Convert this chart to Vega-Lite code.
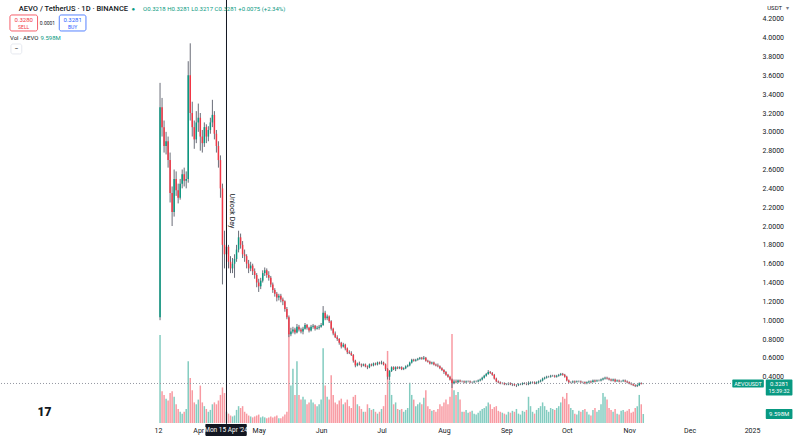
{
"$schema":"https://vega.github.io/schema/vega-lite/v6.json",
"width":755,"height":423,
"autosize":{"type":"none"},
"padding":{"left":0,"top":0,"right":45,"bottom":13},
"background":"#ffffff",
"config":{"view":{"stroke":null},"font":"Roboto"},
"datasets":{"ohlc":[
{"d":"2024-03-13","o":1.03,"h":3.52,"l":1.00,"c":3.26,"v":94},
{"d":"2024-03-14","o":3.26,"h":3.36,"l":2.95,"c":3.05,"v":34},
{"d":"2024-03-15","o":3.05,"h":3.12,"l":2.78,"c":2.85,"v":30},
{"d":"2024-03-16","o":2.85,"h":3.00,"l":2.76,"c":2.90,"v":26},
{"d":"2024-03-17","o":2.90,"h":2.95,"l":2.62,"c":2.70,"v":24},
{"d":"2024-03-18","o":2.70,"h":2.78,"l":2.25,"c":2.35,"v":32},
{"d":"2024-03-19","o":2.35,"h":2.42,"l":2.00,"c":2.15,"v":34},
{"d":"2024-03-20","o":2.15,"h":2.60,"l":2.10,"c":2.50,"v":28},
{"d":"2024-03-21","o":2.50,"h":2.58,"l":2.32,"c":2.38,"v":20},
{"d":"2024-03-22","o":2.38,"h":2.45,"l":2.24,"c":2.30,"v":15},
{"d":"2024-03-23","o":2.30,"h":2.50,"l":2.28,"c":2.45,"v":12},
{"d":"2024-03-24","o":2.45,"h":2.60,"l":2.40,"c":2.55,"v":10},
{"d":"2024-03-25","o":2.55,"h":2.62,"l":2.42,"c":2.48,"v":12},
{"d":"2024-03-26","o":2.48,"h":2.58,"l":2.40,"c":2.50,"v":15},
{"d":"2024-03-27","o":2.50,"h":3.75,"l":2.46,"c":3.60,"v":66},
{"d":"2024-03-28","o":3.60,"h":3.94,"l":3.12,"c":3.20,"v":48},
{"d":"2024-03-29","o":3.20,"h":3.32,"l":2.95,"c":3.05,"v":35},
{"d":"2024-03-30","o":3.05,"h":3.12,"l":2.82,"c":2.92,"v":22},
{"d":"2024-03-31","o":2.92,"h":3.22,"l":2.88,"c":3.10,"v":20},
{"d":"2024-04-01","o":3.10,"h":3.30,"l":3.00,"c":3.15,"v":25},
{"d":"2024-04-02","o":3.15,"h":3.20,"l":2.80,"c":2.95,"v":40},
{"d":"2024-04-03","o":2.95,"h":3.02,"l":2.78,"c":2.88,"v":22},
{"d":"2024-04-04","o":2.88,"h":3.10,"l":2.84,"c":3.05,"v":18},
{"d":"2024-04-05","o":3.05,"h":3.08,"l":2.88,"c":2.95,"v":15},
{"d":"2024-04-06","o":2.95,"h":3.06,"l":2.90,"c":3.02,"v":12},
{"d":"2024-04-07","o":3.02,"h":3.15,"l":2.98,"c":3.10,"v":14},
{"d":"2024-04-08","o":3.10,"h":3.34,"l":3.05,"c":3.18,"v":20},
{"d":"2024-04-09","o":3.18,"h":3.22,"l":2.92,"c":2.98,"v":22},
{"d":"2024-04-10","o":2.98,"h":3.02,"l":2.78,"c":2.85,"v":20},
{"d":"2024-04-11","o":2.85,"h":2.90,"l":2.62,"c":2.70,"v":24},
{"d":"2024-04-12","o":2.70,"h":2.75,"l":2.30,"c":2.40,"v":30},
{"d":"2024-04-13","o":2.40,"h":2.45,"l":1.38,"c":1.80,"v":38},
{"d":"2024-04-14","o":1.80,"h":1.95,"l":1.55,"c":1.70,"v":32},
{"d":"2024-04-15","o":1.70,"h":1.85,"l":1.62,"c":1.78,"v":12},
{"d":"2024-04-16","o":1.78,"h":1.80,"l":1.55,"c":1.62,"v":10},
{"d":"2024-04-17","o":1.62,"h":1.68,"l":1.50,"c":1.55,"v":8},
{"d":"2024-04-18","o":1.55,"h":1.66,"l":1.50,"c":1.60,"v":7},
{"d":"2024-04-19","o":1.60,"h":1.70,"l":1.45,"c":1.65,"v":8},
{"d":"2024-04-20","o":1.65,"h":1.80,"l":1.62,"c":1.75,"v":14},
{"d":"2024-04-21","o":1.75,"h":1.95,"l":1.72,"c":1.88,"v":18},
{"d":"2024-04-22","o":1.88,"h":1.92,"l":1.76,"c":1.80,"v":16},
{"d":"2024-04-23","o":1.80,"h":1.84,"l":1.66,"c":1.70,"v":18},
{"d":"2024-04-24","o":1.70,"h":1.75,"l":1.62,"c":1.68,"v":12},
{"d":"2024-04-25","o":1.68,"h":1.70,"l":1.55,"c":1.60,"v":10},
{"d":"2024-04-26","o":1.60,"h":1.64,"l":1.50,"c":1.55,"v":8},
{"d":"2024-04-27","o":1.55,"h":1.62,"l":1.52,"c":1.58,"v":7},
{"d":"2024-04-28","o":1.58,"h":1.60,"l":1.48,"c":1.52,"v":6},
{"d":"2024-04-29","o":1.52,"h":1.55,"l":1.44,"c":1.48,"v":7},
{"d":"2024-04-30","o":1.48,"h":1.50,"l":1.35,"c":1.40,"v":8},
{"d":"2024-05-01","o":1.40,"h":1.44,"l":1.30,"c":1.36,"v":9},
{"d":"2024-05-02","o":1.36,"h":1.45,"l":1.33,"c":1.42,"v":6},
{"d":"2024-05-03","o":1.42,"h":1.53,"l":1.40,"c":1.50,"v":7},
{"d":"2024-05-04","o":1.50,"h":1.56,"l":1.47,"c":1.53,"v":6},
{"d":"2024-05-05","o":1.53,"h":1.55,"l":1.45,"c":1.48,"v":5},
{"d":"2024-05-06","o":1.48,"h":1.52,"l":1.42,"c":1.45,"v":6},
{"d":"2024-05-07","o":1.45,"h":1.47,"l":1.35,"c":1.38,"v":7},
{"d":"2024-05-08","o":1.38,"h":1.40,"l":1.29,"c":1.32,"v":6},
{"d":"2024-05-09","o":1.32,"h":1.34,"l":1.25,"c":1.28,"v":7},
{"d":"2024-05-10","o":1.28,"h":1.30,"l":1.20,"c":1.24,"v":8},
{"d":"2024-05-11","o":1.24,"h":1.28,"l":1.21,"c":1.26,"v":5},
{"d":"2024-05-12","o":1.26,"h":1.28,"l":1.19,"c":1.22,"v":5},
{"d":"2024-05-13","o":1.22,"h":1.24,"l":1.16,"c":1.20,"v":7},
{"d":"2024-05-14","o":1.20,"h":1.21,"l":1.09,"c":1.12,"v":9},
{"d":"2024-05-15","o":1.12,"h":1.14,"l":1.01,"c":1.03,"v":12},
{"d":"2024-05-16","o":1.03,"h":1.05,"l":0.82,"c":0.85,"v":96},
{"d":"2024-05-17","o":0.85,"h":0.92,"l":0.83,"c":0.88,"v":40},
{"d":"2024-05-18","o":0.88,"h":0.93,"l":0.86,"c":0.90,"v":58},
{"d":"2024-05-19","o":0.90,"h":0.92,"l":0.85,"c":0.87,"v":30},
{"d":"2024-05-20","o":0.87,"h":0.96,"l":0.86,"c":0.93,"v":66},
{"d":"2024-05-21","o":0.93,"h":0.95,"l":0.88,"c":0.90,"v":30},
{"d":"2024-05-22","o":0.90,"h":0.92,"l":0.86,"c":0.88,"v":25},
{"d":"2024-05-23","o":0.88,"h":0.93,"l":0.85,"c":0.91,"v":28},
{"d":"2024-05-24","o":0.91,"h":0.97,"l":0.90,"c":0.95,"v":25},
{"d":"2024-05-25","o":0.95,"h":0.96,"l":0.90,"c":0.92,"v":20},
{"d":"2024-05-26","o":0.92,"h":0.93,"l":0.87,"c":0.89,"v":22},
{"d":"2024-05-27","o":0.89,"h":0.95,"l":0.88,"c":0.93,"v":25},
{"d":"2024-05-28","o":0.93,"h":0.96,"l":0.91,"c":0.94,"v":22},
{"d":"2024-05-29","o":0.94,"h":0.95,"l":0.89,"c":0.91,"v":20},
{"d":"2024-05-30","o":0.91,"h":0.94,"l":0.90,"c":0.92,"v":18},
{"d":"2024-05-31","o":0.92,"h":0.95,"l":0.90,"c":0.93,"v":20},
{"d":"2024-06-01","o":0.93,"h":0.97,"l":0.92,"c":0.95,"v":25},
{"d":"2024-06-02","o":0.95,"h":1.15,"l":0.94,"c":1.08,"v":80},
{"d":"2024-06-03","o":1.08,"h":1.10,"l":1.00,"c":1.02,"v":40},
{"d":"2024-06-04","o":1.02,"h":1.06,"l":1.00,"c":1.04,"v":28},
{"d":"2024-06-05","o":1.04,"h":1.05,"l":0.97,"c":0.99,"v":25},
{"d":"2024-06-06","o":0.99,"h":1.00,"l":0.89,"c":0.91,"v":51},
{"d":"2024-06-07","o":0.91,"h":0.92,"l":0.84,"c":0.86,"v":30},
{"d":"2024-06-08","o":0.86,"h":0.88,"l":0.81,"c":0.82,"v":22},
{"d":"2024-06-09","o":0.82,"h":0.84,"l":0.78,"c":0.80,"v":20},
{"d":"2024-06-10","o":0.80,"h":0.81,"l":0.74,"c":0.76,"v":24},
{"d":"2024-06-11","o":0.76,"h":0.77,"l":0.70,"c":0.72,"v":26},
{"d":"2024-06-12","o":0.72,"h":0.76,"l":0.71,"c":0.74,"v":20},
{"d":"2024-06-13","o":0.74,"h":0.75,"l":0.68,"c":0.70,"v":22},
{"d":"2024-06-14","o":0.70,"h":0.71,"l":0.64,"c":0.66,"v":25},
{"d":"2024-06-15","o":0.66,"h":0.68,"l":0.64,"c":0.65,"v":18},
{"d":"2024-06-16","o":0.65,"h":0.67,"l":0.62,"c":0.63,"v":16},
{"d":"2024-06-17","o":0.63,"h":0.64,"l":0.55,"c":0.57,"v":28},
{"d":"2024-06-18","o":0.57,"h":0.58,"l":0.50,"c":0.52,"v":30},
{"d":"2024-06-19","o":0.52,"h":0.55,"l":0.51,"c":0.54,"v":20},
{"d":"2024-06-20","o":0.54,"h":0.56,"l":0.52,"c":0.53,"v":18},
{"d":"2024-06-21","o":0.53,"h":0.54,"l":0.50,"c":0.52,"v":15},
{"d":"2024-06-22","o":0.52,"h":0.54,"l":0.51,"c":0.53,"v":12},
{"d":"2024-06-23","o":0.53,"h":0.54,"l":0.50,"c":0.51,"v":12},
{"d":"2024-06-24","o":0.51,"h":0.52,"l":0.48,"c":0.50,"v":20},
{"d":"2024-06-25","o":0.50,"h":0.54,"l":0.49,"c":0.53,"v":16},
{"d":"2024-06-26","o":0.53,"h":0.54,"l":0.51,"c":0.52,"v":14},
{"d":"2024-06-27","o":0.52,"h":0.55,"l":0.51,"c":0.54,"v":15},
{"d":"2024-06-28","o":0.54,"h":0.55,"l":0.52,"c":0.53,"v":12},
{"d":"2024-06-29","o":0.53,"h":0.56,"l":0.52,"c":0.55,"v":10},
{"d":"2024-06-30","o":0.55,"h":0.56,"l":0.53,"c":0.54,"v":12},
{"d":"2024-07-01","o":0.54,"h":0.57,"l":0.53,"c":0.55,"v":15},
{"d":"2024-07-02","o":0.55,"h":0.56,"l":0.52,"c":0.53,"v":18},
{"d":"2024-07-03","o":0.53,"h":0.54,"l":0.46,"c":0.48,"v":30},
{"d":"2024-07-04","o":0.48,"h":0.49,"l":0.37,"c":0.40,"v":77},
{"d":"2024-07-05","o":0.40,"h":0.47,"l":0.36,"c":0.46,"v":45},
{"d":"2024-07-06","o":0.46,"h":0.51,"l":0.45,"c":0.50,"v":30},
{"d":"2024-07-07","o":0.50,"h":0.51,"l":0.47,"c":0.48,"v":20},
{"d":"2024-07-08","o":0.48,"h":0.51,"l":0.46,"c":0.50,"v":22},
{"d":"2024-07-09","o":0.50,"h":0.51,"l":0.48,"c":0.49,"v":15},
{"d":"2024-07-10","o":0.49,"h":0.51,"l":0.48,"c":0.50,"v":14},
{"d":"2024-07-11","o":0.50,"h":0.51,"l":0.47,"c":0.48,"v":15},
{"d":"2024-07-12","o":0.48,"h":0.50,"l":0.47,"c":0.49,"v":12},
{"d":"2024-07-13","o":0.49,"h":0.52,"l":0.48,"c":0.51,"v":14},
{"d":"2024-07-14","o":0.51,"h":0.53,"l":0.50,"c":0.52,"v":16},
{"d":"2024-07-15","o":0.52,"h":0.56,"l":0.51,"c":0.55,"v":43},
{"d":"2024-07-16","o":0.55,"h":0.59,"l":0.54,"c":0.58,"v":30},
{"d":"2024-07-17","o":0.58,"h":0.59,"l":0.56,"c":0.57,"v":25},
{"d":"2024-07-18","o":0.57,"h":0.59,"l":0.56,"c":0.58,"v":18},
{"d":"2024-07-19","o":0.58,"h":0.60,"l":0.57,"c":0.59,"v":20},
{"d":"2024-07-20","o":0.59,"h":0.61,"l":0.58,"c":0.60,"v":22},
{"d":"2024-07-21","o":0.60,"h":0.61,"l":0.58,"c":0.59,"v":20},
{"d":"2024-07-22","o":0.59,"h":0.62,"l":0.58,"c":0.60,"v":27},
{"d":"2024-07-23","o":0.60,"h":0.61,"l":0.56,"c":0.57,"v":35},
{"d":"2024-07-24","o":0.57,"h":0.58,"l":0.55,"c":0.56,"v":18},
{"d":"2024-07-25","o":0.56,"h":0.57,"l":0.53,"c":0.54,"v":15},
{"d":"2024-07-26","o":0.54,"h":0.56,"l":0.53,"c":0.55,"v":13},
{"d":"2024-07-27","o":0.55,"h":0.56,"l":0.52,"c":0.53,"v":14},
{"d":"2024-07-28","o":0.53,"h":0.54,"l":0.51,"c":0.52,"v":12},
{"d":"2024-07-29","o":0.52,"h":0.54,"l":0.50,"c":0.51,"v":15},
{"d":"2024-07-30","o":0.51,"h":0.52,"l":0.48,"c":0.49,"v":20},
{"d":"2024-07-31","o":0.49,"h":0.50,"l":0.46,"c":0.47,"v":18},
{"d":"2024-08-01","o":0.47,"h":0.48,"l":0.43,"c":0.45,"v":22},
{"d":"2024-08-02","o":0.45,"h":0.46,"l":0.41,"c":0.42,"v":25},
{"d":"2024-08-03","o":0.42,"h":0.43,"l":0.39,"c":0.40,"v":20},
{"d":"2024-08-04","o":0.40,"h":0.41,"l":0.36,"c":0.37,"v":28},
{"d":"2024-08-05","o":0.37,"h":0.38,"l":0.28,"c":0.33,"v":95},
{"d":"2024-08-06","o":0.33,"h":0.37,"l":0.32,"c":0.35,"v":35},
{"d":"2024-08-07","o":0.35,"h":0.37,"l":0.33,"c":0.34,"v":30},
{"d":"2024-08-08","o":0.34,"h":0.37,"l":0.33,"c":0.36,"v":33},
{"d":"2024-08-09","o":0.36,"h":0.37,"l":0.34,"c":0.35,"v":25},
{"d":"2024-08-10","o":0.35,"h":0.36,"l":0.34,"c":0.35,"v":12},
{"d":"2024-08-11","o":0.35,"h":0.36,"l":0.33,"c":0.34,"v":12},
{"d":"2024-08-12","o":0.34,"h":0.36,"l":0.33,"c":0.35,"v":14},
{"d":"2024-08-13","o":0.35,"h":0.36,"l":0.34,"c":0.35,"v":11},
{"d":"2024-08-14","o":0.35,"h":0.36,"l":0.33,"c":0.34,"v":12},
{"d":"2024-08-15","o":0.34,"h":0.35,"l":0.33,"c":0.34,"v":13},
{"d":"2024-08-16","o":0.34,"h":0.36,"l":0.33,"c":0.35,"v":10},
{"d":"2024-08-17","o":0.35,"h":0.36,"l":0.34,"c":0.35,"v":9},
{"d":"2024-08-18","o":0.35,"h":0.37,"l":0.34,"c":0.36,"v":11},
{"d":"2024-08-19","o":0.36,"h":0.38,"l":0.35,"c":0.37,"v":13},
{"d":"2024-08-20","o":0.37,"h":0.40,"l":0.36,"c":0.39,"v":15},
{"d":"2024-08-21","o":0.39,"h":0.42,"l":0.38,"c":0.41,"v":16},
{"d":"2024-08-22","o":0.41,"h":0.44,"l":0.40,"c":0.43,"v":18},
{"d":"2024-08-23","o":0.43,"h":0.47,"l":0.42,"c":0.45,"v":22},
{"d":"2024-08-24","o":0.45,"h":0.46,"l":0.43,"c":0.44,"v":20},
{"d":"2024-08-25","o":0.44,"h":0.45,"l":0.41,"c":0.42,"v":15},
{"d":"2024-08-26","o":0.42,"h":0.43,"l":0.37,"c":0.38,"v":17},
{"d":"2024-08-27","o":0.38,"h":0.39,"l":0.34,"c":0.35,"v":18},
{"d":"2024-08-28","o":0.35,"h":0.36,"l":0.33,"c":0.34,"v":13},
{"d":"2024-08-29","o":0.34,"h":0.35,"l":0.32,"c":0.33,"v":12},
{"d":"2024-08-30","o":0.33,"h":0.34,"l":0.32,"c":0.33,"v":11},
{"d":"2024-08-31","o":0.33,"h":0.34,"l":0.31,"c":0.32,"v":10},
{"d":"2024-09-01","o":0.32,"h":0.33,"l":0.31,"c":0.32,"v":9},
{"d":"2024-09-02","o":0.32,"h":0.34,"l":0.31,"c":0.33,"v":12},
{"d":"2024-09-03","o":0.33,"h":0.34,"l":0.31,"c":0.32,"v":11},
{"d":"2024-09-04","o":0.32,"h":0.33,"l":0.30,"c":0.32,"v":13},
{"d":"2024-09-05","o":0.32,"h":0.33,"l":0.30,"c":0.31,"v":12},
{"d":"2024-09-06","o":0.31,"h":0.32,"l":0.29,"c":0.31,"v":15},
{"d":"2024-09-07","o":0.31,"h":0.33,"l":0.30,"c":0.32,"v":10},
{"d":"2024-09-08","o":0.32,"h":0.33,"l":0.31,"c":0.32,"v":9},
{"d":"2024-09-09","o":0.32,"h":0.34,"l":0.31,"c":0.33,"v":13},
{"d":"2024-09-10","o":0.33,"h":0.34,"l":0.32,"c":0.33,"v":12},
{"d":"2024-09-11","o":0.33,"h":0.34,"l":0.31,"c":0.32,"v":14},
{"d":"2024-09-12","o":0.32,"h":0.35,"l":0.31,"c":0.33,"v":28},
{"d":"2024-09-13","o":0.33,"h":0.35,"l":0.32,"c":0.34,"v":18},
{"d":"2024-09-14","o":0.34,"h":0.35,"l":0.33,"c":0.34,"v":12},
{"d":"2024-09-15","o":0.34,"h":0.35,"l":0.32,"c":0.33,"v":10},
{"d":"2024-09-16","o":0.33,"h":0.35,"l":0.32,"c":0.34,"v":14},
{"d":"2024-09-17","o":0.34,"h":0.36,"l":0.33,"c":0.35,"v":16},
{"d":"2024-09-18","o":0.35,"h":0.37,"l":0.34,"c":0.36,"v":18},
{"d":"2024-09-19","o":0.36,"h":0.39,"l":0.35,"c":0.38,"v":22},
{"d":"2024-09-20","o":0.38,"h":0.40,"l":0.37,"c":0.39,"v":18},
{"d":"2024-09-21","o":0.39,"h":0.41,"l":0.38,"c":0.40,"v":14},
{"d":"2024-09-22","o":0.40,"h":0.41,"l":0.39,"c":0.40,"v":12},
{"d":"2024-09-23","o":0.40,"h":0.42,"l":0.39,"c":0.41,"v":16},
{"d":"2024-09-24","o":0.41,"h":0.42,"l":0.40,"c":0.41,"v":15},
{"d":"2024-09-25","o":0.41,"h":0.42,"l":0.39,"c":0.40,"v":14},
{"d":"2024-09-26","o":0.40,"h":0.42,"l":0.39,"c":0.41,"v":16},
{"d":"2024-09-27","o":0.41,"h":0.43,"l":0.40,"c":0.42,"v":18},
{"d":"2024-09-28","o":0.42,"h":0.44,"l":0.41,"c":0.43,"v":22},
{"d":"2024-09-29","o":0.43,"h":0.44,"l":0.41,"c":0.42,"v":28},
{"d":"2024-09-30","o":0.42,"h":0.43,"l":0.39,"c":0.40,"v":26},
{"d":"2024-10-01","o":0.40,"h":0.41,"l":0.35,"c":0.36,"v":32},
{"d":"2024-10-02","o":0.36,"h":0.37,"l":0.33,"c":0.34,"v":20},
{"d":"2024-10-03","o":0.34,"h":0.35,"l":0.33,"c":0.34,"v":16},
{"d":"2024-10-04","o":0.34,"h":0.36,"l":0.33,"c":0.35,"v":14},
{"d":"2024-10-05","o":0.35,"h":0.36,"l":0.33,"c":0.34,"v":10},
{"d":"2024-10-06","o":0.34,"h":0.36,"l":0.34,"c":0.35,"v":9},
{"d":"2024-10-07","o":0.35,"h":0.36,"l":0.34,"c":0.35,"v":13},
{"d":"2024-10-08","o":0.35,"h":0.36,"l":0.33,"c":0.34,"v":12},
{"d":"2024-10-09","o":0.34,"h":0.35,"l":0.33,"c":0.34,"v":14},
{"d":"2024-10-10","o":0.34,"h":0.35,"l":0.32,"c":0.33,"v":15},
{"d":"2024-10-11","o":0.33,"h":0.35,"l":0.32,"c":0.34,"v":12},
{"d":"2024-10-12","o":0.34,"h":0.36,"l":0.33,"c":0.35,"v":9},
{"d":"2024-10-13","o":0.35,"h":0.36,"l":0.33,"c":0.34,"v":8},
{"d":"2024-10-14","o":0.34,"h":0.37,"l":0.34,"c":0.36,"v":14},
{"d":"2024-10-15","o":0.36,"h":0.37,"l":0.34,"c":0.35,"v":16},
{"d":"2024-10-16","o":0.35,"h":0.37,"l":0.35,"c":0.36,"v":12},
{"d":"2024-10-17","o":0.36,"h":0.37,"l":0.35,"c":0.36,"v":14},
{"d":"2024-10-18","o":0.36,"h":0.38,"l":0.35,"c":0.37,"v":20},
{"d":"2024-10-19","o":0.37,"h":0.39,"l":0.36,"c":0.38,"v":32},
{"d":"2024-10-20","o":0.38,"h":0.40,"l":0.37,"c":0.39,"v":28},
{"d":"2024-10-21","o":0.39,"h":0.40,"l":0.37,"c":0.38,"v":25},
{"d":"2024-10-22","o":0.38,"h":0.39,"l":0.36,"c":0.37,"v":16},
{"d":"2024-10-23","o":0.37,"h":0.38,"l":0.35,"c":0.36,"v":14},
{"d":"2024-10-24","o":0.36,"h":0.38,"l":0.35,"c":0.37,"v":12},
{"d":"2024-10-25","o":0.37,"h":0.38,"l":0.34,"c":0.35,"v":15},
{"d":"2024-10-26","o":0.35,"h":0.37,"l":0.35,"c":0.36,"v":10},
{"d":"2024-10-27","o":0.36,"h":0.37,"l":0.34,"c":0.35,"v":9},
{"d":"2024-10-28","o":0.35,"h":0.36,"l":0.34,"c":0.35,"v":13},
{"d":"2024-10-29","o":0.35,"h":0.37,"l":0.35,"c":0.36,"v":14},
{"d":"2024-10-30","o":0.36,"h":0.37,"l":0.34,"c":0.35,"v":12},
{"d":"2024-10-31","o":0.35,"h":0.36,"l":0.33,"c":0.34,"v":13},
{"d":"2024-11-01","o":0.34,"h":0.35,"l":0.32,"c":0.33,"v":15},
{"d":"2024-11-02","o":0.33,"h":0.34,"l":0.31,"c":0.32,"v":11},
{"d":"2024-11-03","o":0.32,"h":0.33,"l":0.30,"c":0.31,"v":12},
{"d":"2024-11-04","o":0.31,"h":0.32,"l":0.29,"c":0.30,"v":16},
{"d":"2024-11-05","o":0.30,"h":0.32,"l":0.29,"c":0.31,"v":18},
{"d":"2024-11-06","o":0.31,"h":0.34,"l":0.30,"c":0.33,"v":30},
{"d":"2024-11-07","o":0.33,"h":0.34,"l":0.32,"c":0.3206,"v":20},
{"d":"2024-11-08","o":0.3218,"h":0.3281,"l":0.3217,"c":0.3281,"v":9.6}
]},
"layer":[
{"data":{"name":"ohlc"},
 "mark":{"type":"bar","size":1.5},
 "encoding":{
  "x":{"field":"d","type":"temporal",
   "scale":{"type":"utc","domain":[{"year":2023,"month":12,"date":27,"utc":true},{"year":2024,"month":12,"date":31,"utc":true}]},
   "axis":{"values":[{"year":2024,"month":3,"date":12,"utc":true},{"year":2024,"month":4,"date":1,"utc":true},{"year":2024,"month":5,"date":1,"utc":true},{"year":2024,"month":6,"date":1,"utc":true},{"year":2024,"month":7,"date":1,"utc":true},{"year":2024,"month":8,"date":1,"utc":true},{"year":2024,"month":9,"date":1,"utc":true},{"year":2024,"month":10,"date":1,"utc":true},{"year":2024,"month":11,"date":1,"utc":true},{"year":2024,"month":12,"date":1,"utc":true},{"year":2025,"month":1,"date":1,"utc":true}],
    "tickCount":40,
    "labelExpr":"utcFormat(datum.value,'%m')=='03' ? '12' : (utcFormat(datum.value,'%m')=='01' ? '2025' : utcFormat(datum.value,'%b'))",
    "ticks":false,"domain":false,"grid":false,"labelFontSize":7,"labelColor":"#131722","labelPadding":3,"title":null,"labelFlush":false,"labelOverlap":false,"labelBound":false}},
  "y":{"field":"v","type":"quantitative","scale":{"domain":[0,452],"nice":false},"axis":null},
  "color":{"condition":{"test":"datum.c >= datum.o","value":"#83ccc0"},"value":"#f89aa2"}
 }},
{"layer":[
 {"data":{"name":"ohlc"},
  "mark":{"type":"rule","color":"#6a6d78","strokeWidth":1},
  "encoding":{
   "x":{"field":"d","type":"temporal"},
   "y":{"field":"l","type":"quantitative","scale":{"domain":[-0.0916,4.4],"nice":false,"zero":false},
    "axis":{"orient":"right","values":[0.4,0.6,0.8,1,1.2,1.4,1.6,1.8,2,2.2,2.4,2.6,2.8,3,3.2,3.4,3.6,3.8,4,4.2],"tickCount":40,"format":".4f","ticks":false,"domain":false,"grid":false,"labelFontSize":7,"labelColor":"#131722","labelPadding":7,"title":null,"labelOverlap":false,"labelBound":false,"labelFlush":false}},
   "y2":{"field":"h"}}},
 {"data":{"name":"ohlc"},
  "mark":{"type":"bar","size":1.5},
  "encoding":{
   "x":{"field":"d","type":"temporal"},
   "y":{"field":"o","type":"quantitative"},
   "y2":{"field":"c"},
   "color":{"condition":{"test":"datum.c >= datum.o","value":"#089981"},"value":"#f23645"}}},
 {"data":{"values":[{}]},
  "mark":{"type":"rule","color":"#9598a1","strokeDash":[1,2],"strokeWidth":1},
  "encoding":{"y":{"datum":0.3281,"type":"quantitative"}}},
 {"data":{"values":[{}]},
  "mark":{"type":"rule","color":"#131722","strokeWidth":1},
  "encoding":{"x":{"datum":{"year":2024,"month":4,"date":15,"utc":true},"type":"temporal"},"y":{"datum":4.4,"type":"quantitative"},"y2":{"datum":-0.1}}},
 {"data":{"values":[{}]},
  "mark":{"type":"text","text":"Unlock Day","angle":90,"fontSize":7,"color":"#131722","align":"center","baseline":"middle"},
  "encoding":{"x":{"datum":{"year":2024,"month":4,"date":17,"hours":17,"utc":true},"type":"temporal"},"y":{"datum":2.16,"type":"quantitative"}}},
 {"data":{"values":[{}]},
  "mark":{"type":"text","text":"AEVO / TetherUS · 1D · BINANCE","fontSize":7.5,"fontWeight":500,"color":"#131722","align":"left","baseline":"middle"},
  "encoding":{"x":{"datum":{"year":2024,"month":1,"date":2,"hours":21,"utc":true},"type":"temporal"},"y":{"datum":4.304,"type":"quantitative"}}},
 {"data":{"values":[{}]},
  "mark":{"type":"text","text":"●","fontSize":6,"color":"#089981","align":"center","baseline":"middle"},
  "encoding":{"x":{"datum":{"year":2024,"month":2,"date":28,"hours":17,"utc":true},"type":"temporal"},"y":{"datum":4.304,"type":"quantitative"}}},
 {"data":{"values":[{}]},
  "mark":{"type":"text","text":"O0.3218 H0.3281 L0.3217 C0.3281 +0.0075 (+2.34%)","fontSize":6,"color":"#089981","align":"left","baseline":"middle"},
  "encoding":{"x":{"datum":{"year":2024,"month":3,"date":4,"hours":14,"utc":true},"type":"temporal"},"y":{"datum":4.304,"type":"quantitative"}}},
 {"data":{"values":[{}]},
  "mark":{"type":"rect","fill":"#ffffff","stroke":"#f23645","strokeWidth":0.8,"cornerRadius":2},
  "encoding":{"x":{"datum":{"year":2023,"month":12,"date":29,"hours":11,"utc":true},"type":"temporal"},"x2":{"datum":{"year":2024,"month":1,"date":12,"hours":4,"utc":true}},"y":{"datum":4.241,"type":"quantitative"},"y2":{"datum":4.071}}},
 {"data":{"values":[{}]},
  "mark":{"type":"text","text":"0.3280","fontSize":6,"color":"#f23645","align":"center","baseline":"middle"},
  "encoding":{"x":{"datum":{"year":2024,"month":1,"date":5,"hours":7,"utc":true},"type":"temporal"},"y":{"datum":4.188,"type":"quantitative"}}},
 {"data":{"values":[{}]},
  "mark":{"type":"text","text":"SELL","fontSize":5,"color":"#f23645","align":"center","baseline":"middle"},
  "encoding":{"x":{"datum":{"year":2024,"month":1,"date":5,"hours":7,"utc":true},"type":"temporal"},"y":{"datum":4.113,"type":"quantitative"}}},
 {"data":{"values":[{}]},
  "mark":{"type":"text","text":"0.0001","fontSize":5,"color":"#131722","align":"center","baseline":"middle"},
  "encoding":{"x":{"datum":{"year":2024,"month":1,"date":17,"hours":2,"utc":true},"type":"temporal"},"y":{"datum":4.156,"type":"quantitative"}}},
 {"data":{"values":[{}]},
  "mark":{"type":"rect","fill":"#ffffff","stroke":"#2962ff","strokeWidth":0.8,"cornerRadius":2},
  "encoding":{"x":{"datum":{"year":2024,"month":1,"date":22,"hours":23,"utc":true},"type":"temporal"},"x2":{"datum":{"year":2024,"month":2,"date":5,"hours":5,"utc":true}},"y":{"datum":4.241,"type":"quantitative"},"y2":{"datum":4.071}}},
 {"data":{"values":[{}]},
  "mark":{"type":"text","text":"0.3281","fontSize":6,"color":"#2962ff","align":"center","baseline":"middle"},
  "encoding":{"x":{"datum":{"year":2024,"month":1,"date":29,"hours":14,"utc":true},"type":"temporal"},"y":{"datum":4.188,"type":"quantitative"}}},
 {"data":{"values":[{}]},
  "mark":{"type":"text","text":"BUY","fontSize":5,"color":"#2962ff","align":"center","baseline":"middle"},
  "encoding":{"x":{"datum":{"year":2024,"month":1,"date":29,"hours":14,"utc":true},"type":"temporal"},"y":{"datum":4.113,"type":"quantitative"}}},
 {"data":{"values":[{}]},
  "mark":{"type":"text","text":"Vol · AEVO","fontSize":6,"color":"#131722","align":"left","baseline":"middle"},
  "encoding":{"x":{"datum":{"year":2023,"month":12,"date":29,"hours":11,"utc":true},"type":"temporal"},"y":{"datum":3.996,"type":"quantitative"}}},
 {"data":{"values":[{}]},
  "mark":{"type":"text","text":"9.598M","fontSize":6,"color":"#089981","align":"left","baseline":"middle"},
  "encoding":{"x":{"datum":{"year":2024,"month":1,"date":13,"hours":15,"utc":true},"type":"temporal"},"y":{"datum":3.996,"type":"quantitative"}}},
 {"data":{"values":[{}]},
  "mark":{"type":"rect","fill":"#ffffff","stroke":"#e0e3eb","strokeWidth":0.8,"cornerRadius":2},
  "encoding":{"x":{"datum":{"year":2023,"month":12,"date":29,"hours":23,"utc":true},"type":"temporal"},"x2":{"datum":{"year":2024,"month":1,"date":4,"hours":8,"utc":true}},"y":{"datum":3.933,"type":"quantitative"},"y2":{"datum":3.827}}},
 {"data":{"values":[{}]},
  "mark":{"type":"text","text":"−","fontSize":7,"color":"#131722","align":"center","baseline":"middle"},
  "encoding":{"x":{"datum":{"year":2024,"month":1,"date":1,"hours":15,"utc":true},"type":"temporal"},"y":{"datum":3.88,"type":"quantitative"}}},
 {"data":{"values":[{}]},
  "mark":{"type":"text","text":"USDT","fontSize":6,"color":"#131722","align":"center","baseline":"middle"},
  "encoding":{"x":{"datum":{"year":2025,"month":1,"date":12,"hours":6,"utc":true},"type":"temporal"},"y":{"datum":4.315,"type":"quantitative"}}},
 {"data":{"values":[{}]},
  "mark":{"type":"text","text":"▾","fontSize":6,"color":"#787b86","align":"center","baseline":"middle"},
  "encoding":{"x":{"datum":{"year":2025,"month":1,"date":18,"hours":14,"utc":true},"type":"temporal"},"y":{"datum":4.315,"type":"quantitative"}}},
 {"data":{"values":[{}]},
  "mark":{"type":"rect","fill":"#089981","cornerRadius":1},
  "encoding":{"x":{"datum":{"year":2024,"month":12,"date":22,"hours":5,"utc":true},"type":"temporal"},"x2":{"datum":{"year":2025,"month":1,"date":6,"hours":21,"utc":true}},"y":{"datum":0.3700,"type":"quantitative"},"y2":{"datum":0.2850}}},
 {"data":{"values":[{}]},
  "mark":{"type":"text","text":"AEVOUSDT","fontSize":5.5,"color":"#ffffff","align":"center","baseline":"middle"},
  "encoding":{"x":{"datum":{"year":2024,"month":12,"date":30,"hours":1,"utc":true},"type":"temporal"},"y":{"datum":0.327,"type":"quantitative"}}},
 {"data":{"values":[{}]},
  "mark":{"type":"rect","fill":"#089981","cornerRadius":1},
  "encoding":{"x":{"datum":{"year":2025,"month":1,"date":7,"hours":20,"utc":true},"type":"temporal"},"x2":{"datum":{"year":2025,"month":1,"date":21,"hours":2,"utc":true}},"y":{"datum":0.3700,"type":"quantitative"},"y2":{"datum":0.2000}}},
 {"data":{"values":[{}]},
  "mark":{"type":"text","text":"0.3281","fontSize":6,"color":"#ffffff","align":"center","baseline":"middle"},
  "encoding":{"x":{"datum":{"year":2025,"month":1,"date":14,"hours":11,"utc":true},"type":"temporal"},"y":{"datum":0.322,"type":"quantitative"}}},
 {"data":{"values":[{}]},
  "mark":{"type":"text","text":"15:39:32","fontSize":5.5,"color":"#ffffff","align":"center","baseline":"middle"},
  "encoding":{"x":{"datum":{"year":2025,"month":1,"date":14,"hours":11,"utc":true},"type":"temporal"},"y":{"datum":0.243,"type":"quantitative"}}},
 {"data":{"values":[{}]},
  "mark":{"type":"rect","fill":"#089981","cornerRadius":1},
  "encoding":{"x":{"datum":{"year":2025,"month":1,"date":7,"hours":20,"utc":true},"type":"temporal"},"x2":{"datum":{"year":2025,"month":1,"date":21,"hours":2,"utc":true}},"y":{"datum":0.0567,"type":"quantitative"},"y2":{"datum":-0.0495}}},
 {"data":{"values":[{}]},
  "mark":{"type":"text","text":"9.598M","fontSize":6,"color":"#ffffff","align":"center","baseline":"middle"},
  "encoding":{"x":{"datum":{"year":2025,"month":1,"date":14,"hours":11,"utc":true},"type":"temporal"},"y":{"datum":0.0036,"type":"quantitative"}}},
 {"data":{"values":[{}]},
  "mark":{"type":"rect","fill":"#131722","cornerRadius":1},
  "encoding":{"x":{"datum":{"year":2024,"month":4,"date":4,"hours":12,"utc":true},"type":"temporal"},"x2":{"datum":{"year":2024,"month":4,"date":25,"hours":2,"utc":true}},"y":{"datum":-0.1025,"type":"quantitative"},"y2":{"datum":-0.23}}},
 {"data":{"values":[{}]},
  "mark":{"type":"text","text":"Mon 15 Apr '24","fontSize":6.5,"color":"#ffffff","align":"center","baseline":"middle"},
  "encoding":{"x":{"datum":{"year":2024,"month":4,"date":14,"hours":19,"utc":true},"type":"temporal"},"y":{"datum":-0.166,"type":"quantitative"}}},
 {"data":{"values":[{}]},
  "mark":{"type":"text","text":"17","fontSize":12,"fontWeight":900,"color":"#131722","align":"center","baseline":"middle"},
  "encoding":{"x":{"datum":{"year":2024,"month":1,"date":15,"hours":14,"utc":true},"type":"temporal"},"y":{"datum":0.025,"type":"quantitative"}}}
]}
],
"resolve":{"scale":{"y":"independent"}}
}
